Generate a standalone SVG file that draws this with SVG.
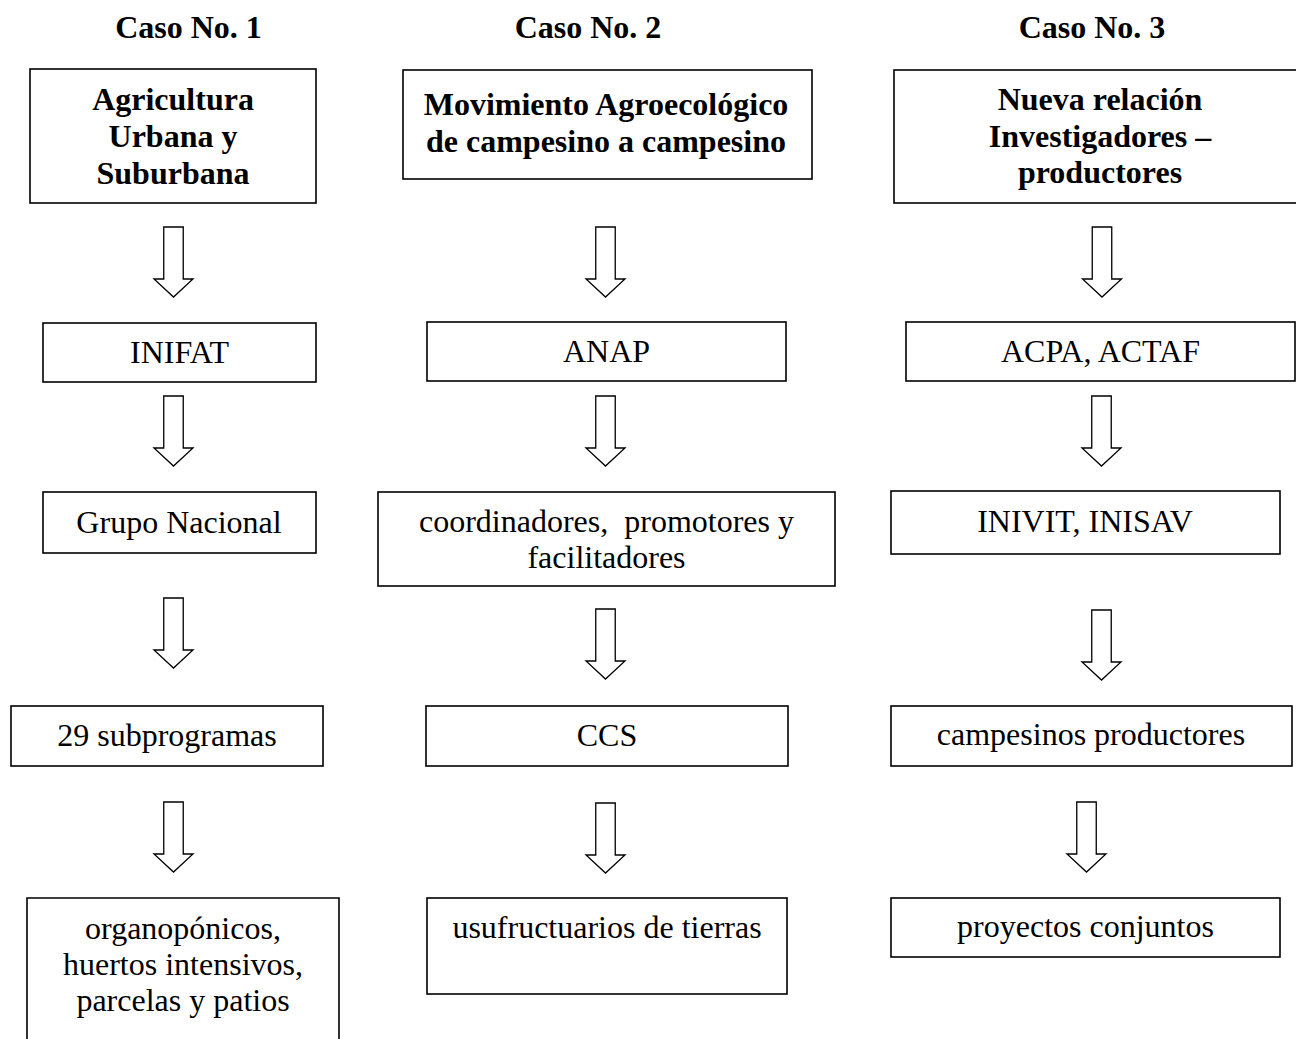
<svg xmlns="http://www.w3.org/2000/svg" xmlns:xlink="http://www.w3.org/1999/xlink" width="1296" height="1039" viewBox="0 0 1296 1039">
<style>
  .box { fill: #fff; stroke: #000; stroke-width: 1.6; }
  .arr { fill: #fff; stroke: #000; stroke-width: 1.3; stroke-linejoin: miter; }
  text { font-family: "Liberation Serif", "Times New Roman", serif; font-size: 32px; fill: #000; text-anchor: middle; }
  .b { font-weight: bold; }
  .pre { white-space: pre; }
</style>
<defs>
  <path id="arrow" d="M-9.75,0 H9.75 V52 H19.5 L0,70 L-19.5,52 H-9.75 Z"/>
</defs>
<rect width="1296" height="1039" fill="#fff"/>

<g id="headers">
  <text class="b" x="188.5" y="38">Caso No. 1</text>
  <text class="b" x="588" y="38">Caso No. 2</text>
  <text class="b" x="1092" y="38">Caso No. 3</text>
</g>

<g id="n-agricultura">
  <rect class="box" x="30" y="69" width="286" height="134"/>
  <text class="b" x="173" y="110">Agricultura</text>
  <text class="b" x="173" y="147">Urbana y</text>
  <text class="b" x="173" y="184">Suburbana</text>
</g>
<g id="n-inifat">
  <rect class="box" x="43" y="323" width="273" height="59"/>
  <text x="179.5" y="363">INIFAT</text>
</g>
<g id="n-grupo">
  <rect class="box" x="43" y="492" width="273" height="61"/>
  <text x="179" y="533">Grupo Nacional</text>
</g>
<g id="n-subprogramas">
  <rect class="box" x="11" y="706" width="312" height="60"/>
  <text x="167" y="746">29 subprogramas</text>
</g>
<g id="n-organoponicos">
  <path class="box" d="M27,1039 V898 H339 V1039"/>
  <text x="183" y="939">organopónicos,</text>
  <text x="183" y="975">huertos intensivos,</text>
  <text x="183" y="1011">parcelas y patios</text>
</g>

<g id="n-movimiento">
  <rect class="box" x="403" y="70" width="409" height="109"/>
  <text class="b" x="606" y="115">Movimiento Agroecológico</text>
  <text class="b" x="606" y="152">de campesino a campesino</text>
</g>
<g id="n-anap">
  <rect class="box" x="427" y="322" width="359" height="59"/>
  <text x="606.5" y="362">ANAP</text>
</g>
<g id="n-coordinadores">
  <rect class="box" x="378" y="492" width="457" height="94"/>
  <text class="pre" x="606.5" y="532">coordinadores,  promotores y</text>
  <text x="606.5" y="568">facilitadores</text>
</g>
<g id="n-ccs">
  <rect class="box" x="426" y="706" width="362" height="60"/>
  <text x="607" y="746">CCS</text>
</g>
<g id="n-usufructuarios">
  <rect class="box" x="427" y="898" width="360" height="96"/>
  <text x="607" y="938">usufructuarios de tierras</text>
</g>

<g id="n-nueva">
  <rect class="box" x="894" y="70" width="420" height="133"/>
  <text class="b" x="1100" y="110">Nueva relación</text>
  <text class="b" x="1100" y="147">Investigadores –</text>
  <text class="b" x="1100" y="183">productores</text>
</g>
<g id="n-acpa">
  <rect class="box" x="906" y="322" width="389" height="59"/>
  <text x="1100.5" y="362">ACPA, ACTAF</text>
</g>
<g id="n-inivit">
  <rect class="box" x="891" y="491" width="389" height="63"/>
  <text x="1085" y="532">INIVIT, INISAV</text>
</g>
<g id="n-campesinos">
  <rect class="box" x="891" y="706" width="401" height="60"/>
  <text x="1091" y="745">campesinos productores</text>
</g>
<g id="n-proyectos">
  <rect class="box" x="891" y="898" width="389" height="59"/>
  <text x="1085.5" y="937">proyectos conjuntos</text>
</g>

<g id="connectors">
  <use class="arr" href="#arrow" xlink:href="#arrow" x="173.5" y="227"/>
  <use class="arr" href="#arrow" xlink:href="#arrow" x="173.5" y="396"/>
  <use class="arr" href="#arrow" xlink:href="#arrow" x="173.5" y="598"/>
  <use class="arr" href="#arrow" xlink:href="#arrow" x="173.5" y="802"/>
  <use class="arr" href="#arrow" xlink:href="#arrow" x="605.5" y="227"/>
  <use class="arr" href="#arrow" xlink:href="#arrow" x="605.5" y="396"/>
  <use class="arr" href="#arrow" xlink:href="#arrow" x="605.5" y="609"/>
  <use class="arr" href="#arrow" xlink:href="#arrow" x="605.5" y="803"/>
  <use class="arr" href="#arrow" xlink:href="#arrow" x="1102" y="227"/>
  <use class="arr" href="#arrow" xlink:href="#arrow" x="1101.5" y="396"/>
  <use class="arr" href="#arrow" xlink:href="#arrow" x="1101.5" y="610"/>
  <use class="arr" href="#arrow" xlink:href="#arrow" x="1086.5" y="802"/>
</g>
</svg>
